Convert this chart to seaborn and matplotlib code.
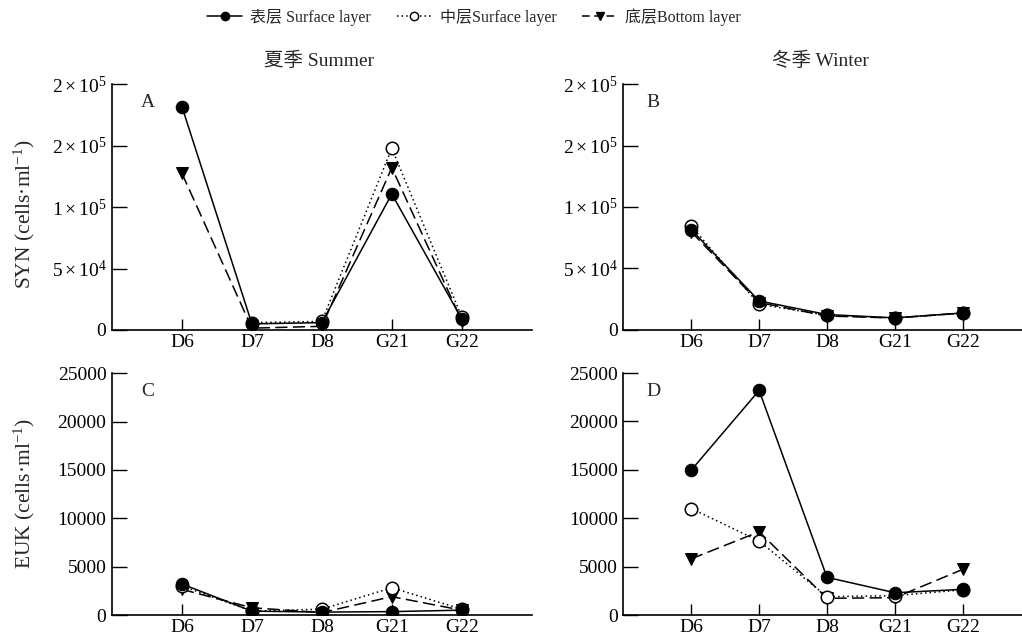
import matplotlib
matplotlib.use("Agg")
import matplotlib.pyplot as plt
import seaborn as sns
import pandas as pd
from matplotlib.lines import Line2D

sns.set_style("ticks")
plt.rcParams["font.family"] = ["Liberation Serif", "Noto Sans CJK SC"]
plt.rcParams["mathtext.fontset"] = "custom"
plt.rcParams["mathtext.rm"] = "Liberation Serif"
plt.rcParams["mathtext.it"] = "Liberation Serif:italic"
plt.rcParams["mathtext.bf"] = "Liberation Serif:bold"

stations = ["D6", "D7", "D8", "G21", "G22"]

# SYN (cells/ml)
syn_summer_surface = [181800, 5000, 6000, 110700, 9000]
syn_summer_middle = [None, 6000, 7000, 147900, 10800]
syn_summer_bottom = [127500, 1500, 3000, 132100, 7600]
syn_winter_surface = [81500, 23300, 12200, 9500, 13500]
syn_winter_middle = [84300, 20600, 11500, 9300, 13300]
syn_winter_bottom = [79700, 22000, 11000, 9400, 13400]

# EUK (cells/ml)
euk_summer_surface = [3200, 400, 300, 350, 500]
euk_summer_middle = [3000, 400, 600, 2820, 600]
euk_summer_bottom = [2650, 750, 250, 1900, 500]
euk_winter_surface = [14960, 23200, 3890, 2300, 2650]
euk_winter_middle = [11000, 7640, 1890, 2000, 2600]
euk_winter_bottom = [5800, 8600, 1720, 1790, 4715]

syn_ticks = [0, 50000, 100000, 150000, 200000]
syn_ticklabels = ["0", r"$\mathrm{5\times10^{4}}$", r"$\mathrm{1\times10^{5}}$",
                  r"$\mathrm{2\times10^{5}}$", r"$\mathrm{2\times10^{5}}$"]
euk_ticks = [0, 5000, 10000, 15000, 20000, 25000]
euk_ticklabels = ["0", "5000", "10000", "15000", "20000", "25000"]

legend_labels = ["表层 Surface layer", "中层Surface layer", "底层Bottom layer"]

W, H = 1022, 644
fig = plt.figure(figsize=(W / 100, H / 100), dpi=100)

def ax_at(left, top, right, bottom):
    return fig.add_axes([left / W, 1 - bottom / H, (right - left) / W, (bottom - top) / H])

axA = ax_at(112, 84.3, 531.7, 330)
axB = ax_at(623.3, 84.3, 1030.7, 329.5)
axC = ax_at(112, 373.3, 531.7, 615)
axD = ax_at(623.3, 373, 1030.7, 615)

styles = {
    "surface": dict(color="black", linestyle="-", marker="o", markerfacecolor="black",
                    markeredgecolor="black", markersize=9, linewidth=1.1),
    "middle": dict(color="black", linestyle=(0, (1, 2)), marker="o", markerfacecolor="white",
                   markeredgecolor="black", markersize=9, linewidth=1.1, markeredgewidth=1.1),
    "bottom": dict(color="black", linestyle=(0, (8, 3.5)), marker="v", markerfacecolor="black",
                   markeredgecolor="black", markersize=9, linewidth=1.1),
}

def draw(ax, surface, middle, bottom):
    for key, vals in (("bottom", bottom), ("middle", middle), ("surface", surface)):
        df = pd.DataFrame({"station": stations, "value": vals}).dropna()
        sns.lineplot(data=df, x="station", y="value", ax=ax, sort=False,
                     estimator=None, legend=False, **styles[key])

draw(axA, syn_summer_surface, syn_summer_middle, syn_summer_bottom)
draw(axB, syn_winter_surface, syn_winter_middle, syn_winter_bottom)
draw(axC, euk_summer_surface, euk_summer_middle, euk_summer_bottom)
draw(axD, euk_winter_surface, euk_winter_middle, euk_winter_bottom)

for ax, letter, ticks, labels in ((axA, "A", syn_ticks, syn_ticklabels),
                                  (axB, "B", syn_ticks, syn_ticklabels),
                                  (axC, "C", euk_ticks, euk_ticklabels),
                                  (axD, "D", euk_ticks, euk_ticklabels)):
    ax.set_xlim(-1, 5)
    ax.set_ylim(0, ticks[-1])
    ax.set_yticks(ticks)
    ax.set_yticklabels(labels)
    ax.set_xticks(range(len(stations)))
    ax.set_xticklabels(stations)
    ax.set_xlabel("")
    ax.set_ylabel("")
    for s in ("top", "right"):
        ax.spines[s].set_visible(False)
    for s in ("left", "bottom"):
        ax.spines[s].set_linewidth(1.2)
        ax.spines[s].set_color("black")
    ax.tick_params(axis="y", direction="in", length=11, width=1.0, labelsize=14, pad=4, colors="black")
    ax.tick_params(axis="x", direction="in", length=8, width=1.0, labelsize=14, pad=3, colors="black")
    ax.set_facecolor("white")
    ax.text(0.085 if ax in (axA, axC) else 0.074, 0.925, letter, transform=ax.transAxes,
            ha="center", va="center", fontsize=14)

fig.text(24 / W, 1 - 214 / H, r"SYN (cells·ml$^{-1}$)", rotation=90, ha="center", va="center", fontsize=15.5)
fig.text(24 / W, 1 - 494 / H, r"EUK (cells·ml$^{-1}$)", rotation=90, ha="center", va="center", fontsize=15.5)

fig.text(319 / W, 1 - 61 / H, "夏季 Summer", ha="center", va="center", fontsize=14)
fig.text(820 / W, 1 - 61 / H, "冬季 Winter", ha="center", va="center", fontsize=14)

handles = [
    Line2D([], [], color="black", linestyle="-", marker="o", markersize=6, linewidth=1.1),
    Line2D([], [], color="black", linestyle=(0, (1, 2)), marker="o", markerfacecolor="white",
           markersize=6, linewidth=1.1),
    Line2D([], [], color="black", linestyle=(0, (5, 3)), marker="v", markersize=6, linewidth=1.1),
]
fig.legend(handles, legend_labels, loc="center", bbox_to_anchor=(474 / W, 1 - 17 / H),
           ncol=3, frameon=False, fontsize=11.5, handlelength=2.2, handletextpad=0.5,
           columnspacing=1.6)

fig.savefig("out.png", dpi=100, facecolor="white")
